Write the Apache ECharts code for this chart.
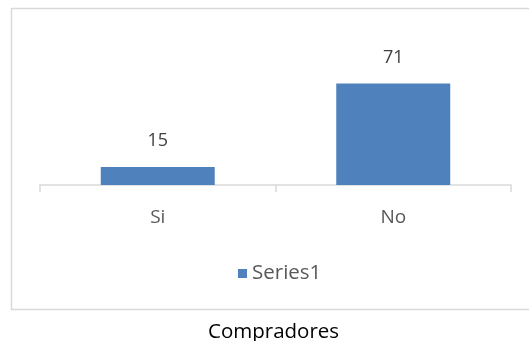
<!DOCTYPE html>
<html><head><meta charset="utf-8">
<script src="https://cdn.jsdelivr.net/npm/echarts@6/dist/echarts.min.js"></script>
<style>html,body{margin:0;padding:0;background:#fff}#c{width:529px;height:341px}</style>
</head><body><div id="c"></div>
<script>
const categories = ['Si', 'No'];
const seriesName = 'Series1';
const values = [15, 71];
const titleText = 'Compradores';

const chart = echarts.init(document.getElementById('c'), null, {renderer: 'canvas'});
const font = '"Open Sans", sans-serif';
chart.setOption({
  animation: false,
  graphic: [{
    type: 'rect', shape: {x: 11.5, y: 8.5, width: 530, height: 301},
    style: {fill: 'none', stroke: '#d9d9d9', lineWidth: 1.5}, z: -1
  }],
  title: {
    text: titleText, left: 203, top: 314,
    textStyle: {fontFamily: font, fontSize: 20.5, fontWeight: 'normal', color: '#000', lineHeight: 26}
  },
  legend: {
    data: [seriesName], top: 258, left: 233,
    icon: 'rect', itemWidth: 9, itemHeight: 9, itemGap: 9,
    textStyle: {fontFamily: font, fontSize: 20.5, color: '#595959'}
  },
  grid: {left: 40, right: 18, top: 70, bottom: 156, containLabel: false},
  xAxis: {
    type: 'category', data: categories,
    axisLine: {lineStyle: {color: '#d9d9d9', width: 1.5}},
    axisTick: {show: true, length: 7, lineStyle: {color: '#d9d9d9', width: 1.5}},
    axisLabel: {fontFamily: font, fontSize: 19, color: '#595959', margin: 23}
  },
  yAxis: {type: 'value', min: 3, max: 80, show: false, splitLine: {show: false}},
  series: [{
    name: seriesName, type: 'bar', data: values, barWidth: 114,
    itemStyle: {color: '#4f81bd'},
    label: {show: true, position: 'top', distance: 17, fontFamily: font, fontSize: 18, color: '#404040'}
  }]
});
</script></body></html>
